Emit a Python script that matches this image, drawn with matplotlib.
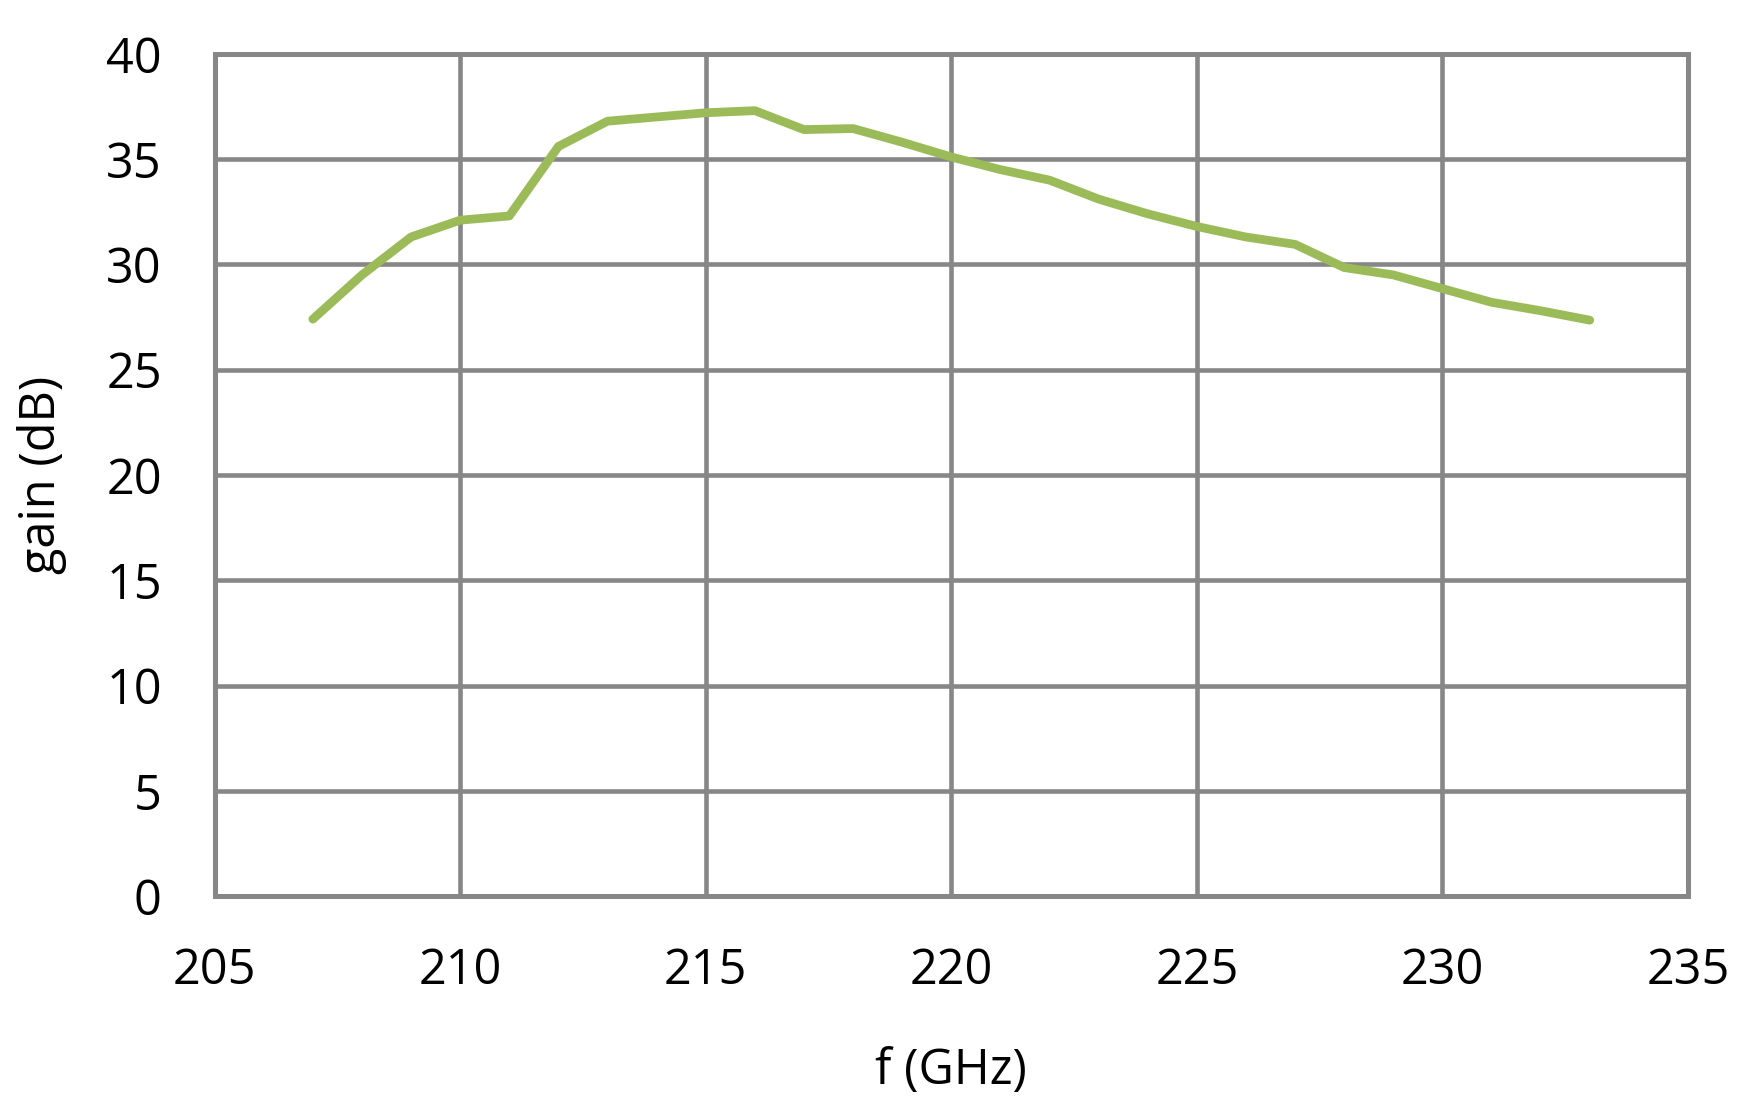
import matplotlib
matplotlib.use('Agg')
import matplotlib.pyplot as plt

# data
freq_ghz = [207, 208, 209, 210, 211, 212, 213, 214, 215, 216, 217, 218, 219, 220,
            221, 222, 223, 224, 225, 226, 227, 228, 229, 230, 231, 232, 233]
gain_db = [27.4, 29.5, 31.3, 32.1, 32.3, 35.6, 36.8, 37.0, 37.2, 37.3, 36.4, 36.45, 35.8, 35.1,
           34.5, 34.0, 33.1, 32.4, 31.8, 31.3, 30.95, 29.85, 29.5, 28.85, 28.2, 27.8, 27.35]

x_ticks = [205, 210, 215, 220, 225, 230, 235]
y_ticks = [0, 5, 10, 15, 20, 25, 30, 35, 40]

plt.rcParams['font.family'] = ['Open Sans', 'DejaVu Sans']

grid_col = '#878787'

fig = plt.figure(figsize=(17.38, 11.16), dpi=100)
ax = fig.add_axes([0.1235, 0.197, 0.8477, 0.7548])

ax.plot(freq_ghz, gain_db, color='#9BBB59', linewidth=6.3, solid_capstyle='round',
        solid_joinstyle='round', zorder=3)

ax.set_xlim(205, 235)
ax.set_ylim(0, 40)
ax.set_xticks(x_ticks)
ax.set_yticks(y_ticks)
ax.grid(True, color=grid_col, linewidth=3.3)
ax.set_axisbelow(True)
for s in ax.spines.values():
    s.set_color(grid_col)
    s.set_linewidth(3.6)

ax.tick_params(axis='both', length=0, labelsize=35)
ax.tick_params(axis='x', pad=36)
ax.tick_params(axis='y', pad=38)

ax.set_xlabel('f (GHz)', fontsize=35)
ax.set_ylabel('gain (dB)', fontsize=35)
ax.xaxis.set_label_coords(0.5, -0.178)
ax.yaxis.set_label_coords(-0.10, 0.5)

fig.savefig('out.png', dpi=100)
